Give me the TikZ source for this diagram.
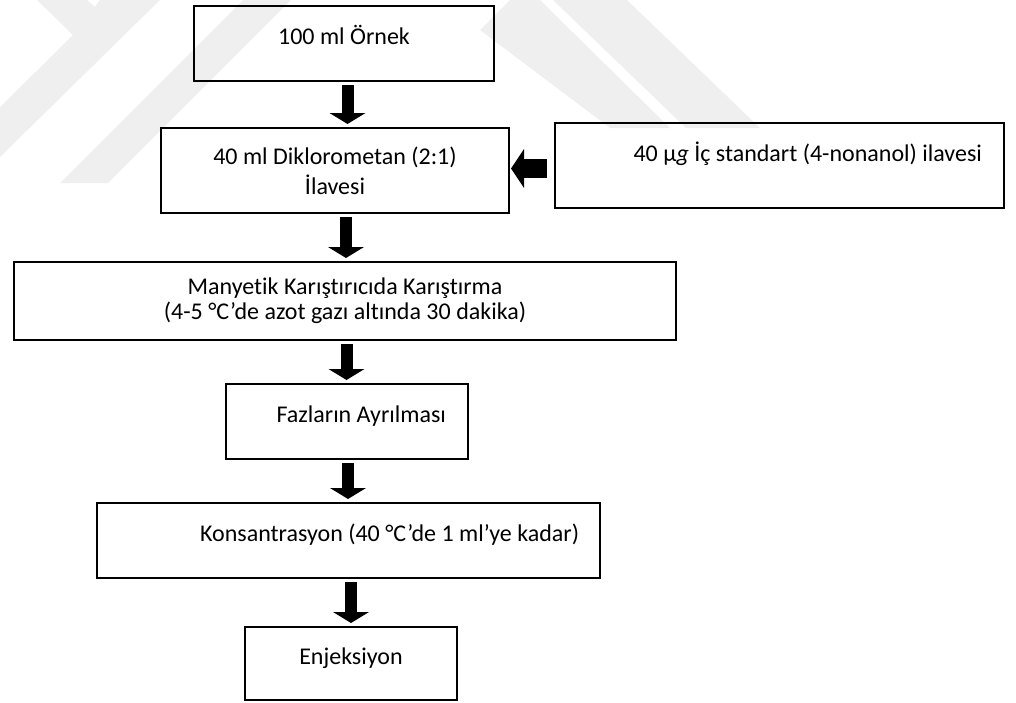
\documentclass[tikz,border=0pt]{standalone}
\usepackage{fontspec}
\setmainfont{Carlito}[Ligatures=NoCommon]
\usepackage{tikz}
\usetikzlibrary{positioning, arrows.meta}
\definecolor{markgray}{RGB}{239, 239, 239}

\begin{document}
\begin{tikzpicture}[x=1pt, y=-1pt,
  box/.style={rectangle, draw=black, line width=2pt, fill=none, align=center,
    font=\fontsize{24}{29}\selectfont, inner sep=0pt},
  rbox/.style={box, align=flush right},
  oneline/.style={text height=18pt, text depth=16.6pt},
  flow/.style={line width=12pt, -{Triangle[length=11pt, width=36pt, line width=0pt]},
    shorten <=3pt, shorten >=3pt},
  sideflow/.style={line width=19pt, -{Triangle[length=13pt, width=39pt, line width=0pt]},
    shorten <=7pt, shorten >=1pt}
]
  \useasboundingbox (0,0) rectangle (1016,702);

  % faint watermark
  \fill[markgray] (37,0) -- (87,0) -- (95,7) -- (100,0) -- (160,0) -- (0,157) -- (0,107) -- (73,35) -- cycle;
  \fill[markgray] (243,0) -- (291,0) -- (108,183) -- (60,183) -- cycle;
  \fill[markgray] (480,30) -- (510,0) -- (540,0) -- (670,128) -- (610,128) -- cycle;
  \fill[markgray] (553,0) -- (627,0) -- (760,128) -- (686,128) -- cycle;

  \node[box, oneline, minimum width=300pt, minimum height=75pt] (sample) at (344,43.5) {100 ml Örnek};
  \node[box, minimum width=348pt, minimum height=85pt] (solvent) at (335,170.5)
    {40 ml Diklorometan (2:1)\\[1pt]İlavesi};
  \node[rbox, oneline, text depth=26.6pt, minimum width=449pt, minimum height=85pt, text width=405pt] (standard) at (779.5,165.5)
    {40 µ\textit{g} İç standart (4-nonanol) ilavesi};
  \node[box, minimum width=662pt, minimum height=78pt] (stir) at (345,301)
    {Manyetik Karıştırıcıda Karıştırma\\[-4pt](4-5 °C’de azot gazı altında 30 dakika)};
  \node[rbox, oneline, minimum width=242pt, minimum height=75pt, text width=198pt] (phase) at (347,421.5)
    {Fazların Ayrılması};
  \node[rbox, oneline, minimum width=503pt, minimum height=75pt, text width=461pt] (conc) at (348.5,540.5)
    {Konsantrasyon (40 °C’de 1 ml’ye kadar)};
  \node[box, oneline, minimum width=212pt, minimum height=73pt] (inject) at (351,663.5) {Enjeksiyon};

  \draw[flow] ([xshift=3.5pt]sample.south) -- ([xshift=3.5pt]sample.south |- solvent.north);
  \draw[flow] ([xshift=11pt]solvent.south) -- ([xshift=11pt]solvent.south |- stir.north);
  \draw[flow] ([xshift=1.5pt]stir.south) -- ([xshift=1.5pt]stir.south |- phase.north);
  \draw[flow] ([xshift=1pt]phase.south) -- ([xshift=1pt]phase.south |- conc.north);
  \draw[flow] ([xshift=2.5pt]conc.south) -- ([xshift=2.5pt]conc.south |- inject.north);
  \draw[sideflow] ([yshift=-3pt]standard.west) -- ([yshift=-3pt]standard.west -| solvent.east);
\end{tikzpicture}
\end{document}
